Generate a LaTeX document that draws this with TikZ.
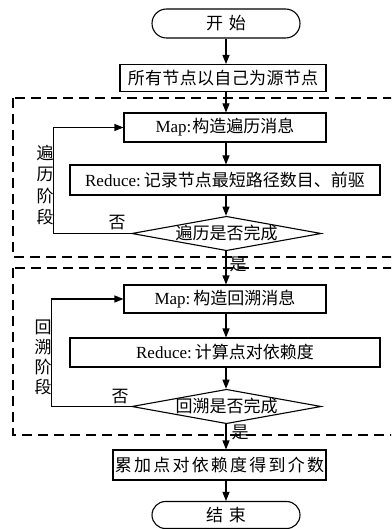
\documentclass[tikz,border=0pt]{standalone}
\usepackage{fontspec}
\setmainfont{Liberation Serif}
\newfontfamily\cjk{Noto Sans CJK SC}
\newfontfamily\lat{Liberation Serif}
\usetikzlibrary{shapes.geometric,shapes.misc,arrows.meta}
\begin{document}
\begin{tikzpicture}[x=1pt,y=-1pt, line width=1.1pt,
 every node/.style={font=\fontsize{17}{19}\selectfont\cjk, inner sep=0pt},
 pill/.style={draw, rounded rectangle, minimum width=148pt, minimum height=29pt},
 box/.style={draw, rectangle, minimum height=29pt},
 dec/.style={draw, diamond, aspect=5.5, minimum width=183pt, minimum height=33pt},
 arr/.style={-{Triangle[length=9pt,width=7pt]}},
 phase/.style={dash pattern=on 10pt off 6pt, line width=1.1pt},
 side/.style={align=center}]
\useasboundingbox (0,0) rectangle (391,529);
\begin{scope}
\clip (0,0) rectangle (391,529);
\draw[phase] (13,98) rectangle (420,257);
\draw[phase] (13,268) rectangle (420,435);
\end{scope}
\coordinate (ax) at (226,0);
\node[pill] (start) at (226,23.5) {\addfontfeatures{LetterSpace=35}开始};
\node[box, minimum width=206pt, minimum height=27pt] (src) at (223,78) {\addfontfeatures{LetterSpace=2}所有节点以自己为源节点};
\node[box, minimum width=202pt] (map1) at (225,127.5) {{\lat Map:}\hspace{1pt}构造遍历消息};
\node[box, minimum width=310pt, minimum height=30pt] (red1) at (225,180) {{\lat Reduce:}\hspace{3pt}记录节点最短路径数目、前驱};
\node[dec] (d1) at (226.5,233.5) {遍历是否完成};
\node[box, minimum width=202pt, minimum height=28pt] (map2) at (225,299) {{\lat Map:}\hspace{3pt}构造回溯消息};
\node[box, minimum width=310pt] (red2) at (225,352.5) {{\lat Reduce:}\hspace{3pt}计算点对依赖度};
\node[dec, minimum height=30pt] (d2) at (226.5,406.5) {回溯是否完成};
\node[box, minimum width=213pt, minimum height=30pt] (fin) at (219.5,465) {\addfontfeatures{LetterSpace=13}累加点对依赖度得到介数};
\node[pill, minimum height=27pt] (end) at (226,515) {\addfontfeatures{LetterSpace=35}结束};
\draw[arr] (start.south -| ax) -- (src.north -| ax);
\draw[arr] (src.south -| ax) -- (map1.north -| ax);
\draw[arr] (map1.south -| ax) -- (red1.north -| ax);
\draw[arr] (red1.south -| ax) -- (d1.north -| ax);
\draw[arr] (d1.south -| ax) -- (map2.north -| ax);
\draw[arr] (map2.south -| ax) -- (red2.north -| ax);
\draw[arr] (red2.south -| ax) -- (d2.north -| ax);
\draw[arr] (d2.south -| ax) -- (fin.north -| ax);
\draw[arr] (fin.south -| ax) -- (end.north -| ax);
\draw[arr] (d1.west) -- ++(-78,0) |- (map1.west);
\draw[arr] (d2.west) -- ++(-80,0) |- (map2.west);
\node (n1) at (117,223) {否};
\node (n2) at (120,397) {否};
\node (y1) at (238,264) {是};
\node (y2) at (240,432) {是};
\node[side, font=\fontsize{17}{21.5}\selectfont\cjk] (p1) at (45,185) {遍\\历\\阶\\段};
\node[side, font=\fontsize{17}{20}\selectfont\cjk] (p2) at (43,357) {回\\溯\\阶\\段};
\end{tikzpicture}
\end{document}
